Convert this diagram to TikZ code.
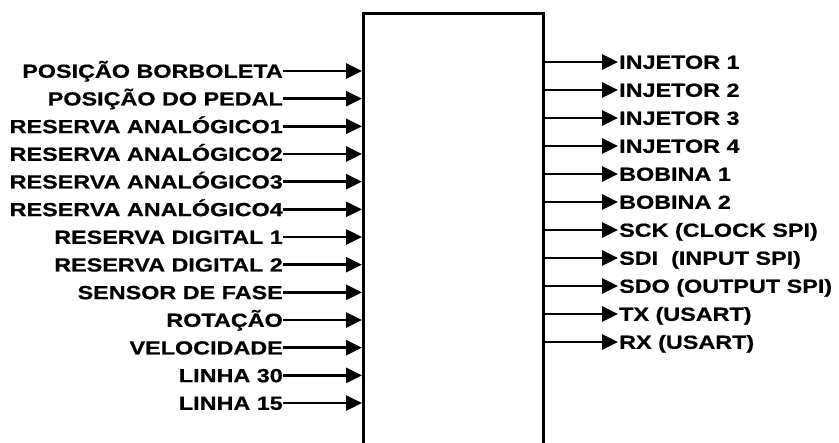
\documentclass[tikz,border=0pt]{standalone}
\usepackage{fontspec}
\setmainfont[BoldFeatures={FakeStretch=1.23,FakeBold=0.6}]{Liberation Sans}
\usetikzlibrary{arrows.meta}
\begin{document}
\begin{tikzpicture}[x=1pt,y=-1pt,
  lbl/.style={font=\bfseries\fontsize{19}{19}\selectfont, inner sep=0pt},
  arr/.style={line width=2.7pt, -{Triangle[length=16pt,width=15pt]}},
  ecubox/.style={draw, line width=3.2pt, minimum width=180pt, minimum height=460pt, anchor=north west, inner sep=0pt}]
\useasboundingbox (0,0) rectangle (839,443);
\begin{scope}
  \clip (0,0) rectangle (839,443);
  \node[ecubox] (ecu) at (362,12) {};
\end{scope}
\foreach \t [count=\i] in {POSIÇÃO BORBOLETA, POSIÇÃO DO PEDAL, RESERVA ANALÓGICO1, RESERVA ANALÓGICO2, RESERVA ANALÓGICO3, RESERVA ANALÓGICO4, RESERVA DIGITAL 1, RESERVA DIGITAL 2, SENSOR DE FASE, ROTAÇÃO, VELOCIDADE, LINHA 30, LINHA 15} {
  \pgfmathsetmacro\yy{71+27.67*(\i-1)}
  \coordinate (ie\i) at (ecu.west |- 0,\yy);
  \node[lbl, anchor=base east] (in\i) at (283,\yy+6.8) {\t};
  \draw[arr] (in\i.east |- ie\i) -- (ie\i);
}
\foreach \t [count=\i] in {INJETOR 1, INJETOR 2, INJETOR 3, INJETOR 4, BOBINA 1, BOBINA 2, SCK (CLOCK SPI), SDI~~(INPUT SPI), SDO (OUTPUT SPI), TX (USART), RX (USART)} {
  \pgfmathsetmacro\yy{62+28*(\i-1)}
  \coordinate (oe\i) at (ecu.east |- 0,\yy);
  \node[lbl, anchor=base west] (out\i) at (619,\yy+6.8) {\t};
  \draw[arr] (oe\i) -- ([xshift=-1pt]out\i.west |- oe\i);
}
\end{tikzpicture}
\end{document}
